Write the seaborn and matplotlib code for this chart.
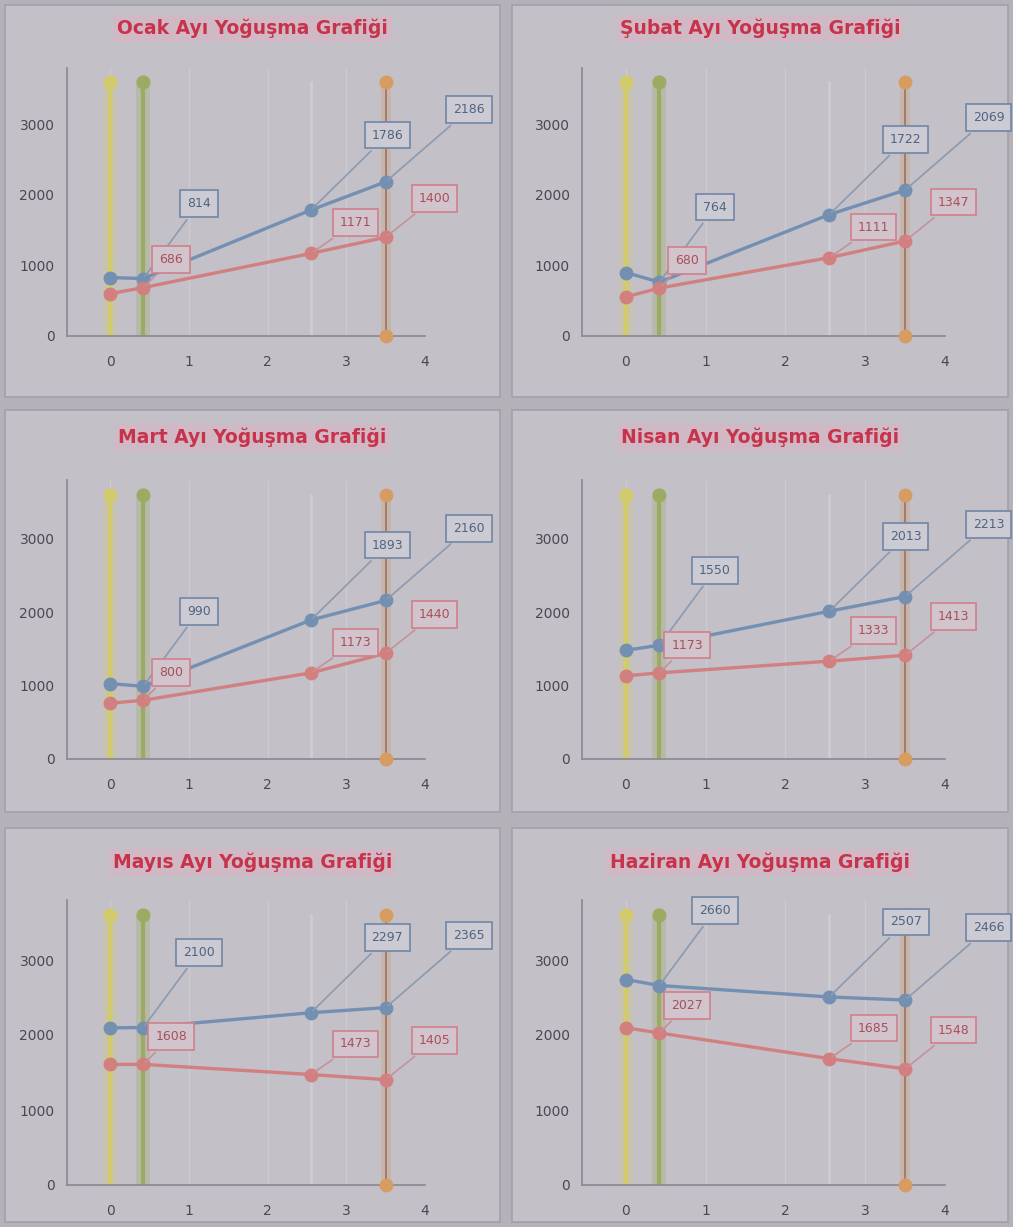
import matplotlib
matplotlib.use("Agg")
import matplotlib.pyplot as plt
from matplotlib.patches import Rectangle
import seaborn as sns
import pandas as pd

sns.set_theme(style="white")
plt.rcParams["font.family"] = ["DejaVu Sans"]

# Monthly condensation charts: saturation (Ps) and partial (Pw) vapour pressure
titles = ["Ocak Ayı Yoğuşma Grafiği", "Şubat Ayı Yoğuşma Grafiği",
          "Mart Ayı Yoğuşma Grafiği", "Nisan Ayı Yoğuşma Grafiği",
          "Mayıs Ayı Yoğuşma Grafiği", "Haziran Ayı Yoğuşma Grafiği"]

# layer boundary positions along the wall (x)
layer_x = [0.0, 0.42, 2.55, 3.5]

ps_ocak = [829, 814, 1786, 2186]
ps_subat = [900, 764, 1722, 2069]
ps_mart = [1027, 990, 1893, 2160]
ps_nisan = [1480, 1550, 2013, 2213]
ps_mayis = [2095, 2100, 2297, 2365]
ps_haziran = [2740, 2660, 2507, 2466]

pw_ocak = [600, 686, 1171, 1400]
pw_subat = [555, 680, 1111, 1347]
pw_mart = [760, 800, 1173, 1440]
pw_nisan = [1133, 1173, 1333, 1413]
pw_mayis = [1608, 1608, 1473, 1405]
pw_haziran = [2096, 2027, 1685, 1548]

ps_all = [ps_ocak, ps_subat, ps_mart, ps_nisan, ps_mayis, ps_haziran]
pw_all = [pw_ocak, pw_subat, pw_mart, pw_nisan, pw_mayis, pw_haziran]

y_ticks = [0, 1000, 2000, 3000]
x_ticks = [0, 1, 2, 3, 4]
guide_top = 3600

W, H = 1013, 1227
BG = "#b4b1b9"
CARD = "#c3c0c8"
BLUE = "#7390b2"
RED = "#d27f7f"
YELLOW = "#d2cb6c"
GREEN = "#9cab62"
ORANGE = "#d69c62"
TITLE_RED = "#c8324a"

fig = plt.figure(figsize=(W / 100, H / 100), dpi=100, facecolor=BG)

card_cols = [(5, 500), (512, 1008)]
card_rows = [(5, 397), (410, 812), (828, 1222)]
ax_cols = [(67, 425), (582, 945)]
ax_rows = [(68, 336), (480, 759), (900, 1185)]
title_y = [28, 437, 862]


def fx(px):
    return px / W


def fy(py):
    return 1 - py / H


blue_off = [None, (40, 54), (55, 54), (60, 52)]
red_off = [None, (20, 20), (32, 22), (35, 28)]

for i, title in enumerate(titles):
    r, c = divmod(i, 2)
    cx0, cx1 = card_cols[c]
    cy0, cy1 = card_rows[r]
    fig.patches.append(Rectangle((fx(cx0), fy(cy1)), fx(cx1 - cx0), (cy1 - cy0) / H,
                                 transform=fig.transFigure, facecolor=CARD,
                                 edgecolor="#a3a0a9", linewidth=1.2, zorder=-5))
    ax0, ax1 = ax_cols[c]
    ay0, ay1 = ax_rows[r]
    ax = fig.add_axes([fx(ax0), fy(ay1), fx(ax1 - ax0), (ay1 - ay0) / H])
    ax.set_facecolor(CARD)

    # vertical layer lines
    for xv, col in [(layer_x[0], YELLOW), (layer_x[1], GREEN)]:
        ax.plot([xv, xv], [0, guide_top], color=col, lw=10, alpha=0.3, zorder=1)
        ax.plot([xv, xv], [0, guide_top], color=col, lw=3, zorder=2)
        ax.plot([xv], [guide_top], "o", color=col, ms=9, zorder=3, clip_on=False)
    ax.plot([layer_x[2]] * 2, [0, guide_top], color="#cfcdd4", lw=2, zorder=1)
    ax.plot([layer_x[3]] * 2, [0, guide_top], color=ORANGE, lw=7, alpha=0.3, zorder=1)
    ax.plot([layer_x[3]] * 2, [0, guide_top], color="#a07c70", lw=1.4, zorder=2)
    ax.plot([layer_x[3]] * 2, [guide_top, 0], "o", color=ORANGE, ms=9,
            zorder=3, clip_on=False)

    df = pd.DataFrame({"x": layer_x * 2,
                       "p": ps_all[i] + pw_all[i],
                       "seri": ["Ps"] * 4 + ["Pw"] * 4})
    sns.lineplot(data=df, x="x", y="p", hue="seri", palette={"Ps": BLUE, "Pw": RED},
                 marker="o", markersize=10, linewidth=2.4, sort=False,
                 legend=False, ax=ax, zorder=4,
                 markeredgecolor="none")

    for k in range(1, 4):
        v = ps_all[i][k]
        ax.annotate(f"{v:d}", (layer_x[k], v), xytext=blue_off[k],
                    textcoords="offset points", ha="center", va="center",
                    fontsize=9, color="#4f6480",
                    bbox=dict(boxstyle="square,pad=0.55", fc="#cccbd4", ec="#6f86a6", lw=1.2),
                    arrowprops=dict(arrowstyle="-", color="#8a9ab0", lw=1.2), zorder=5)
        v = pw_all[i][k]
        ax.annotate(f"{v:d}", (layer_x[k], v), xytext=red_off[k],
                    textcoords="offset points", ha="center", va="center",
                    fontsize=9, color="#a8505a",
                    bbox=dict(boxstyle="square,pad=0.55", fc="#d1c4cd", ec="#d0808a", lw=1.2),
                    arrowprops=dict(arrowstyle="-", color="#c89098", lw=1.2), zorder=5)

    ax.set_xlim(-0.55, 4.0)
    ax.set_ylim(0, 3800)
    ax.set_xticks(x_ticks)
    ax.set_yticks(y_ticks)
    ax.set_xticklabels([str(t) for t in x_ticks])
    ax.set_yticklabels([str(t) for t in y_ticks])
    ax.tick_params(axis="x", pad=14, labelsize=10, colors="#4a4850", length=0)
    ax.tick_params(axis="y", pad=9, labelsize=10, colors="#4a4850", length=0)
    ax.set_xlabel("")
    ax.set_ylabel("")
    ax.grid(axis="x", color="#cdcbd2", lw=0.9)
    for s in ["top", "right"]:
        ax.spines[s].set_visible(False)
    for s in ["left", "bottom"]:
        ax.spines[s].set_color("#8e8b94")
        ax.spines[s].set_linewidth(1.3)

    fig.text(fx((cx0 + cx1) / 2), fy(title_y[r]), title, ha="center", va="center",
             fontsize=13.5, fontweight="bold", color=TITLE_RED,
             bbox=dict(boxstyle="square,pad=0.2", fc="#d0b9c4", ec="none"))

fig.savefig("out.png", dpi=100, facecolor=BG)
